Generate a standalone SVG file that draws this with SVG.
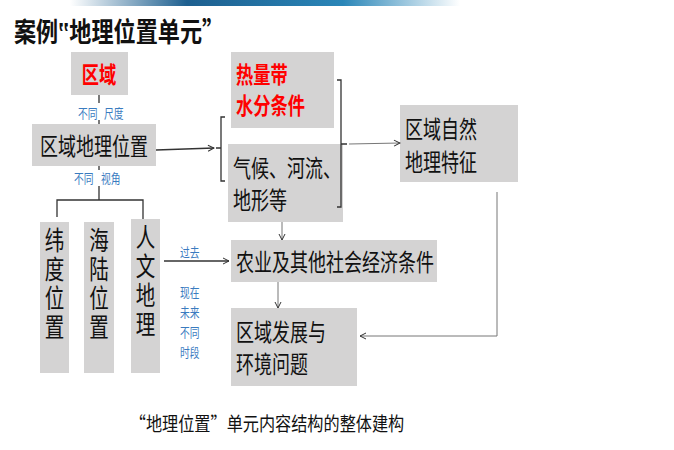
<svg xmlns="http://www.w3.org/2000/svg" width="674" height="450" viewBox="0 0 674 450">
<defs>
<linearGradient id="bar" x1="0" x2="1"><stop offset="0" stop-color="#fff"/><stop offset="0.3" stop-color="#1d5f8f"/><stop offset="0.7" stop-color="#2a86b8"/><stop offset="1" stop-color="#fff"/></linearGradient>
<marker id="ah" markerWidth="8" markerHeight="8" refX="7" refY="4" orient="auto" markerUnits="userSpaceOnUse"><path d="M1,1 L7,4 L1,7" fill="none" stroke="#333" stroke-width="1"/></marker>
</defs>
<style>
text{font-family:"Noto Sans CJK SC","Liberation Sans",sans-serif}
.box{fill:#d4d3d3}
.t{font-size:24px;fill:#111}
.c{font-size:26px;fill:#111;text-anchor:middle}
.r{font-size:23px;fill:#f00;font-weight:bold}
.b{font-size:13px;fill:#3a7bbf}
.ln{stroke:#333;stroke-width:1.3;fill:none}
.thin{stroke:#777;stroke-width:1;fill:none}
</style>
<rect width="674" height="450" fill="#fff"/>
<rect x="70" y="0" width="390" height="6" fill="url(#bar)"/>
<text transform="translate(14,42) scale(0.82,1)" style="font-size:27px;font-weight:bold;fill:#111">案例‟地理位置单元”</text>
<g id="n1"><rect class="box" x="71" y="52" width="57" height="43"/><text class="r" transform="translate(99,83) scale(0.75,1)" text-anchor="middle">区域</text></g>
<g id="n2"><rect class="box" x="32" y="124" width="124" height="42"/><text class="t" transform="translate(94,155) scale(0.75,1)" text-anchor="middle">区域地理位置</text></g>
<g id="n3"><rect class="box" x="231" y="52" width="103" height="76"/><text class="r" transform="translate(236,83) scale(0.75,1)">热量带</text><text class="r" transform="translate(236,114) scale(0.75,1)">水分条件</text></g>
<g id="n4"><rect class="box" x="228" y="144" width="115" height="78"/><text class="t" transform="translate(233,177) scale(0.75,1)">气候、河流、</text><text class="t" transform="translate(233,209) scale(0.75,1)">地形等</text></g>
<g id="n5"><rect class="box" x="400" y="105" width="118" height="77"/><text class="t" transform="translate(405,138) scale(0.75,1)">区域自然</text><text class="t" transform="translate(405,171) scale(0.75,1)">地理特征</text></g>
<g id="n6"><rect class="box" x="40" y="222" width="29" height="151"/><text class="c" transform="translate(54.5,250) scale(0.75,1)">纬</text><text class="c" transform="translate(54.5,279) scale(0.75,1)">度</text><text class="c" transform="translate(54.5,308) scale(0.75,1)">位</text><text class="c" transform="translate(54.5,337) scale(0.75,1)">置</text></g>
<g id="n7"><rect class="box" x="84" y="222" width="30" height="151"/><text class="c" transform="translate(99,250) scale(0.75,1)">海</text><text class="c" transform="translate(99,279) scale(0.75,1)">陆</text><text class="c" transform="translate(99,308) scale(0.75,1)">位</text><text class="c" transform="translate(99,337) scale(0.75,1)">置</text></g>
<g id="n8"><rect class="box" x="131" y="219" width="29" height="154"/><text class="c" transform="translate(145.5,247) scale(0.75,1)">人</text><text class="c" transform="translate(145.5,276) scale(0.75,1)">文</text><text class="c" transform="translate(145.5,305) scale(0.75,1)">地</text><text class="c" transform="translate(145.5,334) scale(0.75,1)">理</text></g>
<g id="n9"><rect class="box" x="231" y="240" width="206" height="42"/><text class="t" transform="translate(236,271) scale(0.75,1)">农业及其他社会经济条件</text></g>
<g id="n10"><rect class="box" x="231" y="308" width="126" height="78"/><text class="t" transform="translate(236,341) scale(0.75,1)">区域发展与</text><text class="t" transform="translate(236,373) scale(0.75,1)">环境问题</text></g>
<g id="labels">
<text class="b" transform="translate(78,118) scale(0.75,1)">不同</text><text class="b" transform="translate(104,118) scale(0.75,1)">尺度</text>
<text class="b" transform="translate(74,183) scale(0.75,1)">不同</text><text class="b" transform="translate(101,183) scale(0.75,1)">视角</text>
<text class="b" transform="translate(180,257) scale(0.75,1)">过去</text>
<text class="b" transform="translate(180,297) scale(0.75,1)">现在</text><text class="b" transform="translate(180,317) scale(0.75,1)">未来</text><text class="b" transform="translate(180,337) scale(0.75,1)">不同</text><text class="b" transform="translate(180,357) scale(0.75,1)">时段</text>
</g>
<g id="connectors">
<path class="ln" d="M99,95 V103 M99,120 V124"/>
<path class="ln" d="M99,166 V170 M99,186 V200 M57,217 V200 H143 V219"/>
<path class="ln" d="M156,150 L214,148" marker-end="url(#ah)"/>
<path class="ln" d="M225,117 H221 V181 H225 M216,148 H221"/>
<path class="ln" d="M337,80 H341 V207 H337 M341,144 H347"/>
<path class="thin" d="M349,144 L400,143" marker-end="url(#ah)"/>
<path class="ln" d="M164,261 L229,261" marker-end="url(#ah)"/>
<path class="thin" d="M282,222 V240" marker-end="url(#ah)"/>
<path class="thin" d="M278,282 V308" marker-end="url(#ah)"/>
<path class="thin" d="M497,192 V336 H360" marker-end="url(#ah)"/>
</g>
<text transform="translate(267,431) scale(0.85,1)" text-anchor="middle" style="font-size:19px;fill:#111">“地理位置”单元内容结构的整体建构</text>
</svg>
